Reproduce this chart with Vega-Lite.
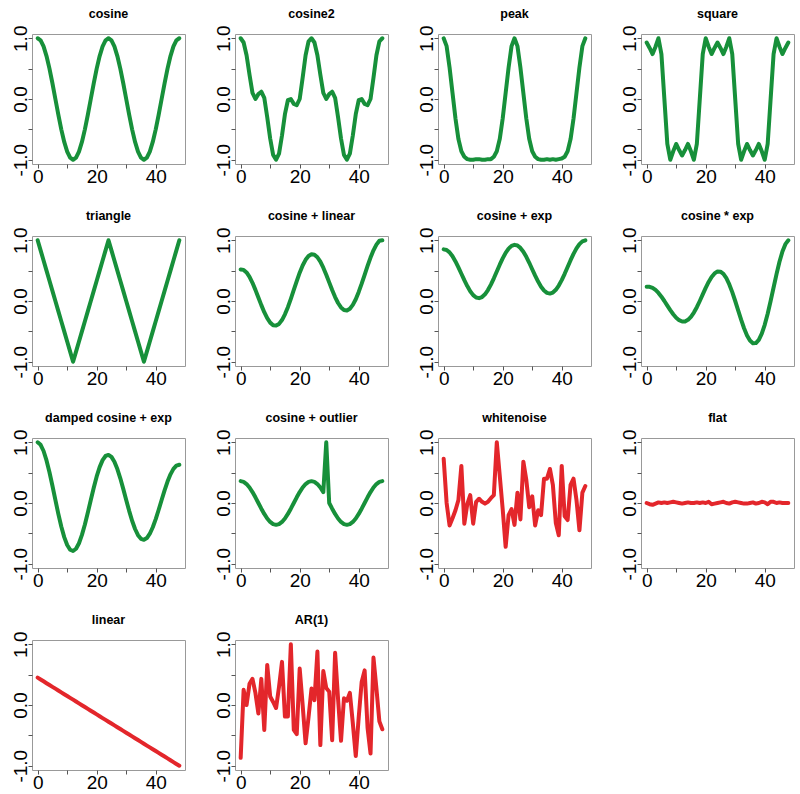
{
  "$schema": "https://vega.github.io/schema/vega-lite/v6.json",
  "padding": {"left": 10, "top": 7, "right": 0, "bottom": 0},
  "background": "white",
  "data": {"values": [
    {"x":0,"cosine":1,"cosine2":1.0,"peak":1,"square":0.93,"triangle":1,"cos_lin":0.52,"cos_exp":0.85,"cos_mul_exp":0.235,"damped":1.0,"outlier":0.36,"noise":0.73,"flat":0,"linear":0.45,"ar1":-0.87},
    {"x":1,"cosine":0.966,"cosine2":0.93,"peak":0.87,"square":0.84,"triangle":0.833,"cos_lin":0.512,"cos_exp":0.839,"cos_mul_exp":0.234,"damped":0.958,"outlier":0.348,"noise":0.0,"flat":-0.02,"linear":0.42,"ar1":0.25},
    {"x":2,"cosine":0.866,"cosine2":0.72,"peak":0.52,"square":0.74,"triangle":0.667,"cos_lin":0.47,"cos_exp":0.8,"cos_mul_exp":0.216,"damped":0.856,"outlier":0.312,"noise":-0.37,"flat":-0.03,"linear":0.39,"ar1":0.0},
    {"x":3,"cosine":0.707,"cosine2":0.4,"peak":0.1,"square":0.86,"triangle":0.5,"cos_lin":0.397,"cos_exp":0.736,"cos_mul_exp":0.182,"damped":0.701,"outlier":0.255,"noise":-0.25,"flat":-0.01,"linear":0.359,"ar1":0.35},
    {"x":4,"cosine":0.5,"cosine2":0.1,"peak":-0.32,"square":1.0,"triangle":0.333,"cos_lin":0.299,"cos_exp":0.652,"cos_mul_exp":0.133,"damped":0.506,"outlier":0.18,"noise":-0.12,"flat":0.01,"linear":0.329,"ar1":0.43},
    {"x":5,"cosine":0.259,"cosine2":0.0,"peak":-0.66,"square":0.74,"triangle":0.167,"cos_lin":0.183,"cos_exp":0.554,"cos_mul_exp":0.071,"damped":0.284,"outlier":0.093,"noise":0.05,"flat":0.0,"linear":0.299,"ar1":0.2},
    {"x":6,"cosine":0,"cosine2":0.08,"peak":-0.86,"square":0,"triangle":0,"cos_lin":0.057,"cos_exp":0.449,"cos_mul_exp":0,"damped":0.05,"outlier":0,"noise":0.61,"flat":0.01,"linear":0.269,"ar1":-0.14},
    {"x":7,"cosine":-0.259,"cosine2":0.12,"peak":-0.95,"square":-0.74,"triangle":-0.167,"cos_lin":-0.068,"cos_exp":0.343,"cos_mul_exp":-0.075,"damped":-0.179,"outlier":-0.093,"noise":-0.34,"flat":0.0,"linear":0.239,"ar1":0.43},
    {"x":8,"cosine":-0.5,"cosine2":0.02,"peak":-0.99,"square":-1.0,"triangle":-0.333,"cos_lin":-0.184,"cos_exp":0.245,"cos_mul_exp":-0.15,"damped":-0.387,"outlier":-0.18,"noise":-0.02,"flat":0.01,"linear":0.208,"ar1":-0.41},
    {"x":9,"cosine":-0.707,"cosine2":-0.3,"peak":-1,"square":-0.86,"triangle":-0.5,"cos_lin":-0.283,"cos_exp":0.161,"cos_mul_exp":-0.218,"damped":-0.562,"outlier":-0.255,"noise":0.13,"flat":0.02,"linear":0.178,"ar1":0.66},
    {"x":10,"cosine":-0.866,"cosine2":-0.65,"peak":-1,"square":-0.74,"triangle":-0.667,"cos_lin":-0.356,"cos_exp":0.097,"cos_mul_exp":-0.275,"damped":-0.692,"outlier":-0.312,"noise":-0.34,"flat":0.01,"linear":0.148,"ar1":0.14},
    {"x":11,"cosine":-0.966,"cosine2":-0.92,"peak":-0.99,"square":-0.84,"triangle":-0.833,"cos_lin":-0.398,"cos_exp":0.058,"cos_mul_exp":-0.316,"damped":-0.769,"outlier":-0.348,"noise":0.02,"flat":0.0,"linear":0.118,"ar1":0.05},
    {"x":12,"cosine":-1,"cosine2":-1.0,"peak":-0.99,"square":-0.93,"triangle":-1,"cos_lin":-0.405,"cos_exp":0.047,"cos_mul_exp":-0.337,"damped":-0.79,"outlier":-0.36,"noise":0.07,"flat":-0.01,"linear":0.088,"ar1":-0.05},
    {"x":13,"cosine":-0.966,"cosine2":-0.9,"peak":-1,"square":-0.84,"triangle":-0.833,"cos_lin":-0.377,"cos_exp":0.065,"cos_mul_exp":-0.336,"damped":-0.753,"outlier":-0.348,"noise":0.02,"flat":0.0,"linear":0.057,"ar1":0.3},
    {"x":14,"cosine":-0.866,"cosine2":-0.6,"peak":-1,"square":-0.74,"triangle":-0.667,"cos_lin":-0.314,"cos_exp":0.11,"cos_mul_exp":-0.31,"damped":-0.662,"outlier":-0.312,"noise":-0.01,"flat":0.01,"linear":0.027,"ar1":0.71},
    {"x":15,"cosine":-0.707,"cosine2":-0.25,"peak":-0.99,"square":-0.86,"triangle":-0.5,"cos_lin":-0.22,"cos_exp":0.18,"cos_mul_exp":-0.261,"damped":-0.525,"outlier":-0.255,"noise":0.02,"flat":0.0,"linear":-0.003,"ar1":-0.19},
    {"x":16,"cosine":-0.5,"cosine2":-0.02,"peak":-0.99,"square":-1.0,"triangle":-0.333,"cos_lin":-0.101,"cos_exp":0.27,"cos_mul_exp":-0.19,"damped":-0.353,"outlier":-0.18,"noise":0.08,"flat":0.0,"linear":-0.033,"ar1":-0.19},
    {"x":17,"cosine":-0.259,"cosine2":0.0,"peak":-0.95,"square":-0.74,"triangle":-0.167,"cos_lin":0.036,"cos_exp":0.374,"cos_mul_exp":-0.102,"damped":-0.157,"outlier":-0.093,"noise":0.13,"flat":0.01,"linear":-0.064,"ar1":1.0},
    {"x":18,"cosine":0,"cosine2":-0.08,"peak":-0.86,"square":0,"triangle":0,"cos_lin":0.182,"cos_exp":0.486,"cos_mul_exp":0,"damped":0.05,"outlier":0,"noise":1.0,"flat":0.0,"linear":-0.094,"ar1":-0.41},
    {"x":19,"cosine":0.259,"cosine2":-0.1,"peak":-0.66,"square":0.74,"triangle":0.167,"cos_lin":0.329,"cos_exp":0.598,"cos_mul_exp":0.108,"damped":0.252,"outlier":0.093,"noise":0.45,"flat":0.01,"linear":-0.124,"ar1":-0.48},
    {"x":20,"cosine":0.5,"cosine2":0.0,"peak":-0.32,"square":1.0,"triangle":0.333,"cos_lin":0.466,"cos_exp":0.702,"cos_mul_exp":0.215,"damped":0.437,"outlier":0.18,"noise":-0.1,"flat":0.0,"linear":-0.154,"ar1":0.6},
    {"x":21,"cosine":0.707,"cosine2":0.35,"peak":0.1,"square":0.86,"triangle":0.5,"cos_lin":0.585,"cos_exp":0.792,"cos_mul_exp":0.313,"damped":0.591,"outlier":0.255,"noise":-0.72,"flat":0.02,"linear":-0.184,"ar1":0.0},
    {"x":22,"cosine":0.866,"cosine2":0.72,"peak":0.52,"square":0.74,"triangle":0.667,"cos_lin":0.678,"cos_exp":0.862,"cos_mul_exp":0.395,"damped":0.706,"outlier":0.312,"noise":-0.2,"flat":-0.02,"linear":-0.215,"ar1":-0.63},
    {"x":23,"cosine":0.966,"cosine2":0.95,"peak":0.87,"square":0.84,"triangle":0.833,"cos_lin":0.741,"cos_exp":0.907,"cos_mul_exp":0.454,"damped":0.774,"outlier":0.348,"noise":-0.1,"flat":-0.01,"linear":-0.245,"ar1":-0.2},
    {"x":24,"cosine":1,"cosine2":1.0,"peak":1,"square":0.93,"triangle":1,"cos_lin":0.77,"cos_exp":0.924,"cos_mul_exp":0.485,"damped":0.792,"outlier":0.36,"noise":-0.36,"flat":0.0,"linear":-0.275,"ar1":0.27},
    {"x":25,"cosine":0.966,"cosine2":0.93,"peak":0.87,"square":0.84,"triangle":0.833,"cos_lin":0.762,"cos_exp":0.913,"cos_mul_exp":0.482,"damped":0.759,"outlier":0.348,"noise":0.17,"flat":0.01,"linear":-0.305,"ar1":0.08},
    {"x":26,"cosine":0.866,"cosine2":0.72,"peak":0.52,"square":0.74,"triangle":0.667,"cos_lin":0.72,"cos_exp":0.874,"cos_mul_exp":0.446,"damped":0.679,"outlier":0.312,"noise":-0.27,"flat":0.02,"linear":-0.335,"ar1":0.88},
    {"x":27,"cosine":0.707,"cosine2":0.4,"peak":0.1,"square":0.86,"triangle":0.5,"cos_lin":0.647,"cos_exp":0.811,"cos_mul_exp":0.375,"damped":0.559,"outlier":0.255,"noise":0.68,"flat":0.0,"linear":-0.366,"ar1":-0.66},
    {"x":28,"cosine":0.5,"cosine2":0.1,"peak":-0.32,"square":1.0,"triangle":0.333,"cos_lin":0.549,"cos_exp":0.727,"cos_mul_exp":0.273,"damped":0.406,"outlier":0.18,"noise":0.38,"flat":-0.01,"linear":-0.396,"ar1":0.56},
    {"x":29,"cosine":0.259,"cosine2":0.0,"peak":-0.66,"square":0.74,"triangle":0.167,"cos_lin":0.433,"cos_exp":0.629,"cos_mul_exp":0.146,"damped":0.232,"outlier":1.0,"noise":-0.07,"flat":0.01,"linear":-0.426,"ar1":0.28},
    {"x":30,"cosine":0,"cosine2":0.08,"peak":-0.86,"square":0,"triangle":0,"cos_lin":0.307,"cos_exp":0.523,"cos_mul_exp":0,"damped":0.05,"outlier":0,"noise":0.11,"flat":0.02,"linear":-0.456,"ar1":0.22},
    {"x":31,"cosine":-0.259,"cosine2":0.12,"peak":-0.95,"square":-0.74,"triangle":-0.167,"cos_lin":0.181,"cos_exp":0.417,"cos_mul_exp":-0.155,"damped":-0.129,"outlier":-0.093,"noise":-0.37,"flat":0.01,"linear":-0.486,"ar1":-0.58},
    {"x":32,"cosine":-0.5,"cosine2":0.02,"peak":-0.99,"square":-1.0,"triangle":-0.333,"cos_lin":0.065,"cos_exp":0.319,"cos_mul_exp":-0.308,"damped":-0.292,"outlier":-0.18,"noise":-0.12,"flat":0.0,"linear":-0.517,"ar1":0.86},
    {"x":33,"cosine":-0.707,"cosine2":-0.3,"peak":-1,"square":-0.86,"triangle":-0.5,"cos_lin":-0.033,"cos_exp":0.235,"cos_mul_exp":-0.449,"damped":-0.428,"outlier":-0.255,"noise":-0.2,"flat":-0.01,"linear":-0.547,"ar1":0.1},
    {"x":34,"cosine":-0.866,"cosine2":-0.65,"peak":-1,"square":-0.74,"triangle":-0.667,"cos_lin":-0.106,"cos_exp":0.172,"cos_mul_exp":-0.567,"damped":-0.53,"outlier":-0.312,"noise":0.4,"flat":-0.01,"linear":-0.577,"ar1":-0.59},
    {"x":35,"cosine":-0.966,"cosine2":-0.92,"peak":-0.99,"square":-0.84,"triangle":-0.833,"cos_lin":-0.148,"cos_exp":0.133,"cos_mul_exp":-0.652,"damped":-0.59,"outlier":-0.348,"noise":0.4,"flat":0.0,"linear":-0.607,"ar1":0.11},
    {"x":36,"cosine":-1,"cosine2":-1.0,"peak":-1,"square":-0.93,"triangle":-1,"cos_lin":-0.156,"cos_exp":0.122,"cos_mul_exp":-0.696,"damped":-0.606,"outlier":-0.36,"noise":0.56,"flat":0.01,"linear":-0.637,"ar1":0.07},
    {"x":37,"cosine":-0.966,"cosine2":-0.9,"peak":-0.99,"square":-0.84,"triangle":-0.833,"cos_lin":-0.127,"cos_exp":0.139,"cos_mul_exp":-0.693,"damped":-0.577,"outlier":-0.348,"noise":0.3,"flat":-0.01,"linear":-0.668,"ar1":0.2},
    {"x":38,"cosine":-0.866,"cosine2":-0.6,"peak":-1,"square":-0.74,"triangle":-0.667,"cos_lin":-0.064,"cos_exp":0.184,"cos_mul_exp":-0.64,"damped":-0.506,"outlier":-0.312,"noise":-0.33,"flat":0.0,"linear":-0.698,"ar1":-0.3},
    {"x":39,"cosine":-0.707,"cosine2":-0.25,"peak":-0.99,"square":-0.86,"triangle":-0.5,"cos_lin":0.029,"cos_exp":0.254,"cos_mul_exp":-0.538,"damped":-0.399,"outlier":-0.255,"noise":-0.53,"flat":0.02,"linear":-0.728,"ar1":-0.84},
    {"x":40,"cosine":-0.5,"cosine2":-0.02,"peak":-0.98,"square":-1.0,"triangle":-0.333,"cos_lin":0.149,"cos_exp":0.344,"cos_mul_exp":-0.392,"damped":-0.265,"outlier":-0.18,"noise":0.61,"flat":0.01,"linear":-0.758,"ar1":-0.2},
    {"x":41,"cosine":-0.259,"cosine2":0.0,"peak":-0.95,"square":-0.74,"triangle":-0.167,"cos_lin":0.285,"cos_exp":0.448,"cos_mul_exp":-0.209,"damped":-0.111,"outlier":-0.093,"noise":-0.22,"flat":-0.02,"linear":-0.789,"ar1":0.38},
    {"x":42,"cosine":0,"cosine2":-0.08,"peak":-0.86,"square":0,"triangle":0,"cos_lin":0.432,"cos_exp":0.56,"cos_mul_exp":0,"damped":0.05,"outlier":0,"noise":-0.28,"flat":0.02,"linear":-0.819,"ar1":0.57},
    {"x":43,"cosine":0.259,"cosine2":-0.1,"peak":-0.66,"square":0.74,"triangle":0.167,"cos_lin":0.578,"cos_exp":0.672,"cos_mul_exp":0.222,"damped":0.208,"outlier":0.093,"noise":0.3,"flat":0.02,"linear":-0.849,"ar1":-0.38},
    {"x":44,"cosine":0.5,"cosine2":0.0,"peak":-0.32,"square":1.0,"triangle":0.333,"cos_lin":0.715,"cos_exp":0.776,"cos_mul_exp":0.443,"damped":0.352,"outlier":0.18,"noise":0.4,"flat":0.0,"linear":-0.879,"ar1":-0.8},
    {"x":45,"cosine":0.707,"cosine2":0.35,"peak":0.1,"square":0.86,"triangle":0.5,"cos_lin":0.834,"cos_exp":0.866,"cos_mul_exp":0.645,"damped":0.472,"outlier":0.255,"noise":0.05,"flat":0.01,"linear":-0.909,"ar1":0.78},
    {"x":46,"cosine":0.866,"cosine2":0.72,"peak":0.52,"square":0.74,"triangle":0.667,"cos_lin":0.928,"cos_exp":0.936,"cos_mul_exp":0.814,"damped":0.562,"outlier":0.312,"noise":-0.45,"flat":0.0,"linear":-0.94,"ar1":0.27},
    {"x":47,"cosine":0.966,"cosine2":0.95,"peak":0.87,"square":0.84,"triangle":0.833,"cos_lin":0.991,"cos_exp":0.981,"cos_mul_exp":0.936,"damped":0.615,"outlier":0.348,"noise":0.17,"flat":0.0,"linear":-0.97,"ar1":-0.27},
    {"x":48,"cosine":1,"cosine2":1.0,"peak":1,"square":0.93,"triangle":1,"cos_lin":1.0,"cos_exp":0.999,"cos_mul_exp":0.999,"damped":0.629,"outlier":0.36,"noise":0.28,"flat":0.0,"linear":-1.0,"ar1":-0.4}
  ]},
  "transform": [
    {"fold": ["cosine","cosine2","peak","square","triangle","cos_lin","cos_exp","cos_mul_exp","damped","outlier","noise","flat","linear","ar1"], "as": ["series","value"]}
  ],
  "columns": 4,
  "spacing": {"row": 22, "column": 27},
  "facet": {
    "field": "series",
    "type": "nominal",
    "sort": ["cosine","cosine2","peak","square","triangle","cos_lin","cos_exp","cos_mul_exp","damped","outlier","noise","flat","linear","ar1"],
    "header": {
      "title": null,
      "labelFont": "Liberation Sans",
      "labelFontSize": 12.5,
      "labelFontWeight": "bold",
      "labelColor": "black",
      "labelPadding": 5,
      "labelExpr": "{'cosine':'cosine','cosine2':'cosine2','peak':'peak','square':'square','triangle':'triangle','cos_lin':'cosine + linear','cos_exp':'cosine + exp','cos_mul_exp':'cosine * exp','damped':'damped cosine + exp','outlier':'cosine + outlier','noise':'whitenoise','flat':'flat','linear':'linear','ar1':'AR(1)'}[datum.value]"
    }
  },
  "spec": {
    "width": 153,
    "height": 130,
    "mark": {"type": "line", "strokeWidth": 4, "strokeJoin": "round", "strokeCap": "round"},
    "encoding": {
      "x": {"field": "x", "type": "quantitative", "title": null,
            "scale": {"domain": [-1.92, 49.92], "nice": false, "zero": false},
            "axis": {"values": [0,10,20,30,40], "labelExpr": "datum.value % 20 === 0 ? datum.value + '' : ''", "grid": false, "domain": false, "tickSize": 4, "tickColor": "#555", "labelFont": "Liberation Sans", "labelFontSize": 19, "labelColor": "black", "labelBaseline": "alphabetic", "labelPadding": 14, "labelFlush": false, "labelOverlap": false}},
      "y": {"field": "value", "type": "quantitative", "title": null,
            "scale": {"domain": [-1.07, 1.07], "nice": false, "zero": false},
            "axis": {"values": [-1,-0.5,0,0.5,1], "labelExpr": "datum.value === 1 ? '1.0' : datum.value === 0 ? '0.0' : datum.value === -1 ? '-1.0' : ''", "grid": false, "domain": false, "tickSize": 4, "tickColor": "#555", "labelFont": "Liberation Sans", "labelFontSize": 19, "labelColor": "black", "labelAngle": -90, "labelAlign": "center", "labelBaseline": "alphabetic", "labelPadding": 2, "labelFlush": false, "labelOverlap": false}},
      "color": {"field": "series", "type": "nominal", "legend": null,
                "scale": {"domain": ["cosine","cosine2","peak","square","triangle","cos_lin","cos_exp","cos_mul_exp","damped","outlier","noise","flat","linear","ar1"],
                          "range": ["#17903a","#17903a","#17903a","#17903a","#17903a","#17903a","#17903a","#17903a","#17903a","#17903a","#e3262b","#e3262b","#e3262b","#e3262b"]}}
    }
  },
  "resolve": {"axis": {"x": "independent", "y": "independent"}},
  "config": {"view": {"stroke": "#999", "strokeWidth": 1}}
}
